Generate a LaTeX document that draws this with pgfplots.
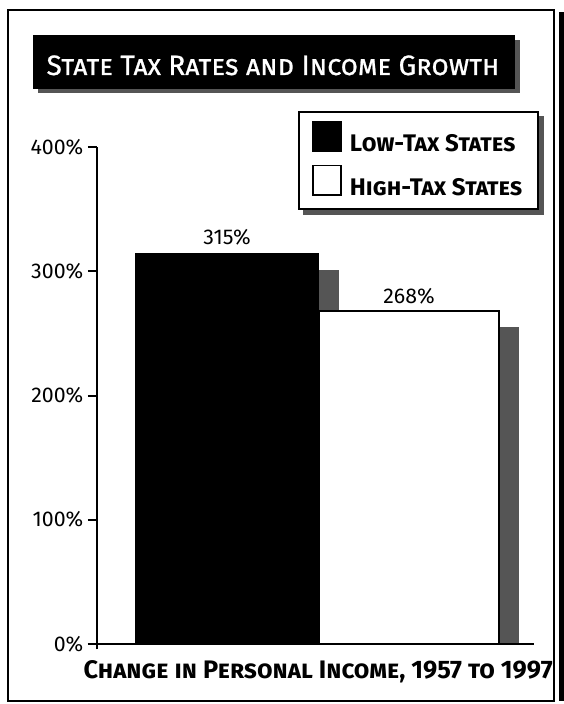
\documentclass[border=0pt]{standalone}
\usepackage{pgfplots}
\pgfplotsset{compat=1.18}
\usetikzlibrary{backgrounds}
\usepackage{fontspec}
\setmainfont{Fira Sans}
\newfontfamily\titlefont{Fira Sans}[FakeBold=0.8]
\definecolor{shadowgray}{HTML}{555555}

\begin{document}
\begin{tikzpicture}[x=0.75pt,y=0.75pt]
\path[use as bounding box] (0,0) rectangle (564,704);
% outer frame
\draw[line width=1.5pt] (8,3) rectangle (554,694);
\fill[black] (559,3) rectangle (563.5,692);
% title box
\fill[shadowgray] (38,611) rectangle (520,664);
\fill[black] (33,615) rectangle (515,669);
\node[text=white, anchor=base, inner sep=0pt, font=\titlefont\fontsize{21}{24}\selectfont\scshape] at (273,629) {State Tax Rates and Income Growth};

\begin{axis}[
  at={(97,48.5)}, anchor=south west, scale only axis,
  width=327.75pt, height=372.4pt,
  xmin=97, xmax=534, ymin=0, ymax=400,
  clip=false,
  axis lines=left, axis line style={draw=none},
  xtick=\empty,
  ytick={0,100,200,300,400},
  yticklabel={\pgfmathprintnumber{\tick}\%},
  yticklabel style={font=\fontsize{16}{18}\selectfont, /pgf/number format/assume math mode=true},
  tick align=outside, major tick length=6.75pt,
  tick style={line width=1.5pt, black},
  xlabel={Change in Personal Income, 1957 to 1997},
  xlabel style={font=\fontsize{19}{22}\selectfont\bfseries\scshape, at={(axis description cs:0.506,-0.0695)}, anchor=base, inner sep=0pt},
  legend style={name=leg, at={(axis cs:298,429)}, anchor=north west, draw=black, line width=1.5pt, fill=white,
    inner xsep=10pt, inner ysep=6.5pt, row sep=6pt,
    font=\fontsize{18}{20}\selectfont\bfseries\scshape,
    /tikz/every odd column/.append style={column sep=4pt}},
  legend cell align=left,
  sqlegend/.style={legend image code/.code={\draw[##1, line width=1.2pt] (0pt,-5pt) rectangle (21pt,17pt);}},
  nodes near coords style={font=\fontsize{16}{18}\selectfont, anchor=base, inner sep=0pt, yshift=6pt, /pgf/number format/assume math mode=true},
]
% shadow of low-tax bar
\addplot[ybar, bar width=184, bar shift=0pt, fill=shadowgray, draw=none, forget plot] coordinates {(247,301)};
% low-tax bar
\addplot[ybar, bar width=184, bar shift=0pt, fill=black, draw=none,
  nodes near coords={\pgfmathprintnumber{\pgfplotspointmeta}\%}, sqlegend] coordinates {(227,315)};
\addlegendentry{Low-Tax States}
% shadow of high-tax bar
\addplot[ybar, bar width=180, bar shift=0pt, fill=shadowgray, draw=none, forget plot] coordinates {(429,255)};
% high-tax bar
\addplot[ybar, bar width=180, bar shift=0pt, fill=white, draw=black, line width=1.2pt,
  nodes near coords={\pgfmathprintnumber{\pgfplotspointmeta}\%}, sqlegend] coordinates {(409,268)};
\addlegendentry{High-Tax States}
% axis lines
\draw[line width=1.5pt] (axis cs:97,-4.4) -- (axis cs:97,400);
\draw[line width=1.5pt] (axis cs:88,0) -- (axis cs:534,0);
\end{axis}
\begin{scope}[on background layer]
\fill[shadowgray] ([shift={(3.75pt,-3.75pt)}]leg.south west) rectangle ([shift={(3.75pt,-3.75pt)}]leg.north east);
\end{scope}
\end{tikzpicture}
\end{document}
